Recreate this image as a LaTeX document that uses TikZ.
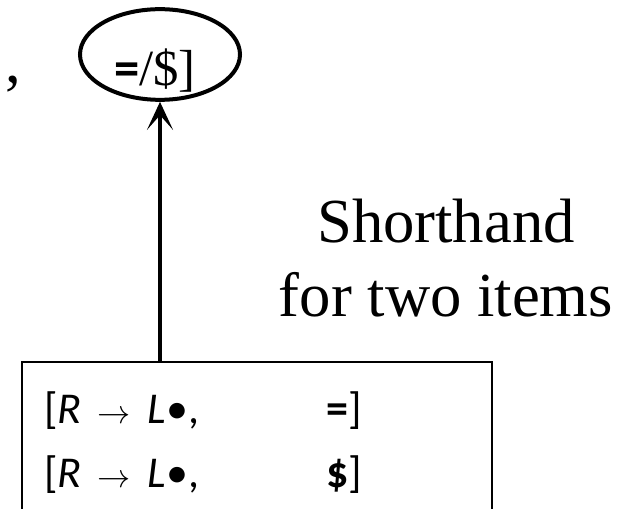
\documentclass[tikz,border=0pt]{standalone}
\usepackage{fontspec}
\setmainfont{Liberation Serif}
\setsansfont{Carlito}
\usetikzlibrary{arrows.meta,positioning,shapes.geometric}

\begin{document}
\begin{tikzpicture}[
  x=0.75pt, y=-0.75pt,
  note/.style={font=\fontsize{47}{55.5}\selectfont, align=center, inner sep=0pt},
  item/.style={font=\sffamily\fontsize{33}{40}\selectfont, inner sep=0pt, anchor=base west},
  look/.style={draw, ellipse, line width=3pt, minimum width=120pt, minimum height=68pt, inner sep=0pt},
  state/.style={draw, line width=1.5pt, minimum width=352.5pt, minimum height=130pt, anchor=north west, inner sep=0pt}
]
\clip (0,0) rectangle (628,509);
% merged item set
\node[state] (items) at (21,361) {};
\node[item] (row1) at (44,423) {[\textit{R}\hspace{.35em}$\rightarrow$\hspace{.4em}\textit{L}\textbullet,};
\node[item] (la1) at (326,423) {\textbf{=}]};
\node[item] (row2) at (44,487) {[\textit{R}\hspace{.35em}$\rightarrow$\hspace{.4em}\textit{L}\textbullet,};
\node[item] (la2) at (326,487) {\textbf{\$}]};
% lookahead set
\node[look] (ell) at (160,54.5) {};
\node[font=\fontsize{38}{44}\selectfont, anchor=base, inner sep=0pt] (latext) at (155,86) {{\sffamily\bfseries =}/\$]};
\node[font=\fontsize{47}{55}\selectfont, anchor=base, inner sep=0pt] (comma) at (13,83) {,};
\node[note, anchor=base] (short) at (446,317) {Shorthand\\for two items};
\draw[line width=3.5pt, -{Stealth[length=21pt, width=19.5pt, inset=11pt]}] (items.north -| ell.south) -- (ell.south);
\end{tikzpicture}
\end{document}
